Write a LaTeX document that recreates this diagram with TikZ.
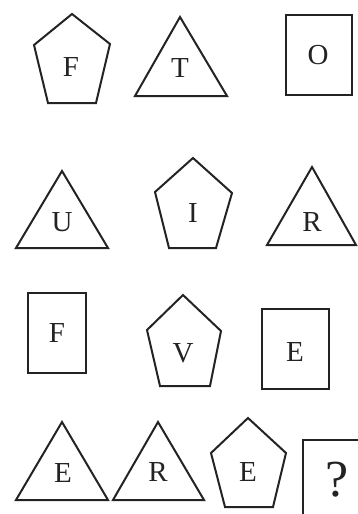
\documentclass[tikz,border=0pt]{standalone}
\usepackage{fontspec}
\setmainfont{Liberation Serif}
\usepackage{tikz}
\definecolor{edge}{RGB}{35, 35, 35}

\begin{document}
\begin{tikzpicture}[x=1pt, y=-1pt,
  every node/.style={font=\fontsize{29}{30}\selectfont, text=edge},
  fig/.style={draw=edge, line width=2pt, line join=miter}]
  \useasboundingbox (0,0) rectangle (357,514);
  % row 1
  \draw[fig] (72,14) -- (110,44) -- (96,103) -- (48,103) -- (34,45) -- cycle;
  \node (f1) at (71,67) {F};
  \draw[fig] (180,17) -- (227,96) -- (135,96) -- cycle;
  \node (t1) at (180,68) {T};
  \draw[fig] (286,15) rectangle (352,95);
  \node (o1) at (318,55) {O};
  % row 2
  \draw[fig] (62,171) -- (108,248) -- (16,248) -- cycle;
  \node (u2) at (62,222) {U};
  \draw[fig] (193,158) -- (232,193) -- (216,248) -- (169,248) -- (155,192) -- cycle;
  \node (i2) at (193,213) {I};
  \draw[fig] (312,167) -- (356,245) -- (267,245) -- cycle;
  \node (r2) at (312,222) {R};
  % row 3
  \draw[fig] (28,293) rectangle (86,373);
  \node (f3) at (57,333) {F};
  \draw[fig] (183,295) -- (221,331) -- (210,386) -- (160,386) -- (147,330) -- cycle;
  \node (v3) at (183,353) {V};
  \draw[fig] (262,309) rectangle (329,389);
  \node (e3) at (295,352) {E};
  % row 4
  \draw[fig] (62,422) -- (108,500) -- (16,500) -- cycle;
  \node (e4) at (63,473) {E};
  \draw[fig] (158,422) -- (204,500) -- (113,500) -- cycle;
  \node (r4) at (158,472) {R};
  \draw[fig] (248,418) -- (286,453) -- (273,507) -- (225,507) -- (211,453) -- cycle;
  \node (e5) at (248,472) {E};
  \draw[fig] (303,440) rectangle (370,530);
  \node[font=\fontsize{52}{54}\selectfont] (q4) at (337,480) {?};
\end{tikzpicture}
\end{document}
